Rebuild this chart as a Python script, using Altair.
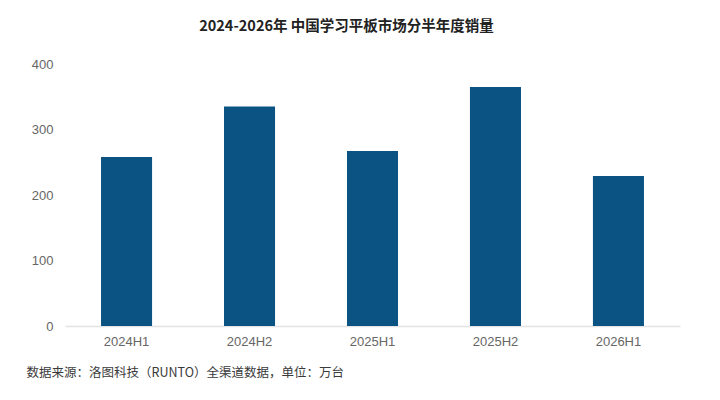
import altair as alt
import pandas as pd

periods = ["2024H1", "2024H2", "2025H1", "2025H2", "2026H1"]
sales = [258, 335, 267, 365, 229]

df = pd.DataFrame({"period": periods, "sales": sales})

FONT = "Noto Sans CJK SC"

chart = alt.Chart(df).mark_bar(color="#0b5383").encode(
    x=alt.X("period:N", sort=periods,
            scale=alt.Scale(paddingInner=0.585, paddingOuter=0.293),
            axis=alt.Axis(
                title="数据来源：洛图科技（RUNTO）全渠道数据，单位：万台",
                titleFont=FONT, titleFontSize=12.5, titleFontWeight="normal",
                titleColor="#3a3a3a", titleAnchor="start", titleAlign="left",
                titleX=-39, titleY=50, titleBaseline="alphabetic",
                labelAngle=0, labelFont="Liberation Sans", labelFontSize=13,
                labelColor="#666666", labelPadding=9, ticks=False,
                domainColor="#e3e3e3", domainWidth=1.5)),
    y=alt.Y("sales:Q",
            scale=alt.Scale(domain=[0, 400]),
            axis=alt.Axis(title=None, values=[0, 100, 200, 300, 400],
                          labelFont="Liberation Sans", labelFontSize=13,
                          labelColor="#666666", labelPadding=12,
                          ticks=False, domain=False, grid=False)),
).properties(
    width=615, height=262,
    background="white",
    autosize=alt.AutoSizeParams(type="none"),
    padding={"left": 57, "top": 56, "right": 32, "bottom": 60},
    title=alt.TitleParams(
        "2024-2026年 中国学习平板市场分半年度销量",
        font=FONT, fontSize=14.5, fontWeight="bold", color="#222222",
        anchor="middle", dx=-26, offset=24),
).configure_view(strokeWidth=0)

chart.save("out.html", embed_options={"renderer": "svg", "actions": False})
